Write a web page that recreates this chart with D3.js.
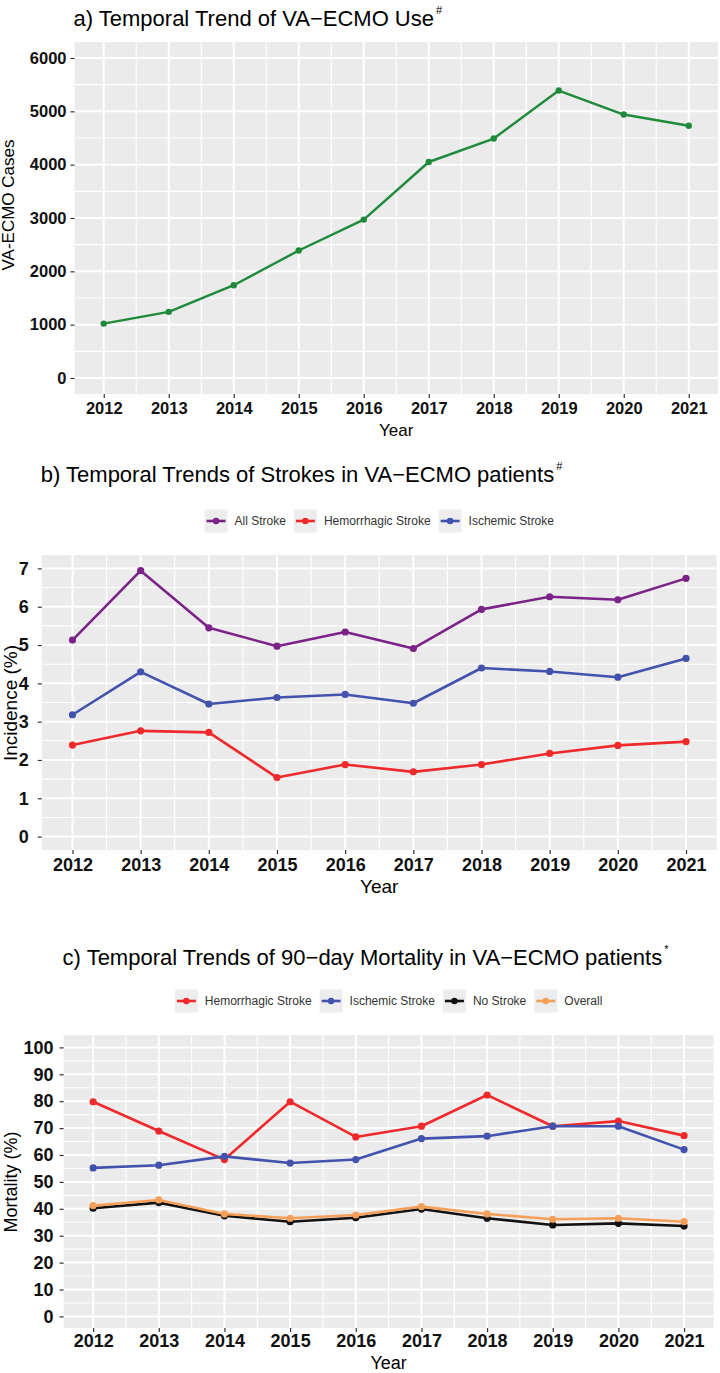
<!DOCTYPE html>
<html>
<head>
<meta charset="utf-8">
<script src="https://cdn.jsdelivr.net/npm/d3@7"></script>
<style>
  html, body { margin: 0; padding: 0; background: #ffffff; }
  svg { display: block; }
  text { font-family: "Liberation Sans", Arial, sans-serif; }
</style>
</head>
<body>
<svg id="chart" width="720" height="1373"></svg>
<script>
// ---------------- DATA ----------------
const years = [2012, 2013, 2014, 2015, 2016, 2017, 2018, 2019, 2020, 2021];

// a) VA-ECMO cases per year
const vaEcmoCases = [1020, 1240, 1740, 2390, 2970, 4050, 4490, 5390, 4940, 4730];

// b) Stroke incidence (%)
const allStrokeIncidence         = [5.13, 6.94, 5.45, 4.97, 5.34, 4.91, 5.93, 6.26, 6.18, 6.74];
const hemorrhagicStrokeIncidence = [2.39, 2.76, 2.72, 1.54, 1.88, 1.69, 1.88, 2.17, 2.38, 2.48];
const ischemicStrokeIncidence    = [3.18, 4.30, 3.46, 3.63, 3.71, 3.48, 4.40, 4.31, 4.16, 4.65];

// c) 90-day mortality (%)
const mortalityHemorrhagic = [79.8, 68.9, 58.3, 79.8, 66.7, 70.7, 82.3, 70.7, 72.6, 67.2];
const mortalityIschemic    = [55.2, 56.2, 59.5, 57.0, 58.3, 66.1, 67.0, 70.7, 70.7, 62.0];
const mortalityNoStroke    = [40.2, 42.3, 37.4, 35.2, 36.7, 39.9, 36.5, 34.0, 34.6, 33.6];
const mortalityOverall     = [41.2, 43.3, 38.1, 36.5, 37.7, 40.8, 38.1, 36.1, 36.5, 35.2];

// tick values
const yTicksA = [0, 1000, 2000, 3000, 4000, 5000, 6000];
const yTicksB = [0, 1, 2, 3, 4, 5, 6, 7];
const yTicksC = [0, 10, 20, 30, 40, 50, 60, 70, 80, 90, 100];
const xTicks = years;

// series names
const strokeSeriesNames = ["All Stroke", "Hemorrhagic Stroke", "Ischemic Stroke"];
const mortalitySeriesNames = ["Hemorrhagic Stroke", "Ischemic Stroke", "No Stroke", "Overall"];

// ---------------- DRAWING ----------------
const svg = d3.select("#chart");
const FONT = '"Liberation Sans", Arial, sans-serif';

function drawPanel(cfg) {
  const g = svg.append("g");
  const x = d3.scaleLinear().domain([2011.55, 2021.45]).range([cfg.left, cfg.right]);
  const y = d3.scaleLinear().domain(cfg.yDomain).range([cfg.bottom, cfg.top]);

  // title
  const t = g.append("text")
    .attr("x", cfg.left - 1).attr("y", cfg.titleY)
    .attr("font-size", cfg.titleSize).attr("fill", "#000");
  t.append("tspan").text(cfg.title);
  t.append("tspan").text(cfg.titleSup)
    .attr("font-size", cfg.titleSize * 0.5)
    .attr("dy", -cfg.titleSize * 0.55)
    .attr("dx", 2);

  // panel background
  g.append("rect")
    .attr("x", cfg.left).attr("y", cfg.top)
    .attr("width", cfg.right - cfg.left).attr("height", cfg.bottom - cfg.top)
    .attr("fill", "#EBEBEB");

  // minor grid
  const yStep = cfg.yTicks[1] - cfg.yTicks[0];
  const yMinor = cfg.yTicks.slice(0, -1).map(v => v + yStep / 2)
    .concat([cfg.yTicks[0] - yStep / 2, cfg.yTicks[cfg.yTicks.length - 1] + yStep / 2])
    .filter(v => y(v) < cfg.bottom && y(v) > cfg.top);
  const xMinor = xTicks.slice(0, -1).map(v => v + 0.5);
  g.append("g").selectAll("line").data(yMinor).join("line")
    .attr("x1", cfg.left).attr("x2", cfg.right)
    .attr("y1", d => y(d)).attr("y2", d => y(d))
    .attr("stroke", "#fff").attr("stroke-width", 1.1);
  g.append("g").selectAll("line").data(xMinor).join("line")
    .attr("y1", cfg.top).attr("y2", cfg.bottom)
    .attr("x1", d => x(d)).attr("x2", d => x(d))
    .attr("stroke", "#fff").attr("stroke-width", 1.1);
  // major grid
  g.append("g").selectAll("line").data(cfg.yTicks).join("line")
    .attr("x1", cfg.left).attr("x2", cfg.right)
    .attr("y1", d => y(d)).attr("y2", d => y(d))
    .attr("stroke", "#fff").attr("stroke-width", 2);
  g.append("g").selectAll("line").data(xTicks).join("line")
    .attr("y1", cfg.top).attr("y2", cfg.bottom)
    .attr("x1", d => x(d)).attr("x2", d => x(d))
    .attr("stroke", "#fff").attr("stroke-width", 2);

  // axes via d3 axis generators
  const yAxis = d3.axisLeft(y).tickValues(cfg.yTicks).tickSize(4).tickPadding(cfg.yPad).tickFormat(d3.format("d"));
  const ya = g.append("g").attr("transform", `translate(${cfg.left},0)`).call(yAxis);
  ya.select(".domain").remove();
  ya.selectAll(".tick line").attr("stroke", "#333").attr("stroke-width", 1.2);
  ya.selectAll(".tick text").attr("font-size", cfg.tickSize).attr("fill", "#111")
    .attr("font-family", FONT).attr("font-weight", "bold");

  const xAxis = d3.axisBottom(x).tickValues(xTicks).tickSize(4).tickPadding(cfg.xPad).tickFormat(d3.format("d"));
  const xa = g.append("g").attr("transform", `translate(0,${cfg.bottom})`).call(xAxis);
  xa.select(".domain").remove();
  xa.selectAll(".tick line").attr("stroke", "#333").attr("stroke-width", 1.2);
  xa.selectAll(".tick text").attr("font-size", cfg.tickSize).attr("fill", "#111")
    .attr("font-family", FONT).attr("font-weight", "bold");

  // axis titles
  g.append("text")
    .attr("x", (cfg.left + cfg.right) / 2).attr("y", cfg.xTitleY)
    .attr("text-anchor", "middle").attr("font-size", cfg.axisTitleSize).attr("fill", "#000")
    .text("Year");
  g.append("text")
    .attr("transform", `translate(${cfg.yTitleX},${cfg.yTitleCY}) rotate(-90)`)
    .attr("text-anchor", "middle").attr("font-size", cfg.axisTitleSize).attr("fill", "#000")
    .text(cfg.yTitle);

  // series
  const line = d3.line().x((d, i) => x(years[i])).y(d => y(d));
  cfg.series.forEach(s => {
    g.append("path").datum(s.values)
      .attr("d", line).attr("fill", "none")
      .attr("stroke", s.color).attr("stroke-width", cfg.lineWidth)
      .attr("stroke-linejoin", "round");
    g.append("g").selectAll("circle").data(s.values).join("circle")
      .attr("cx", (d, i) => x(years[i])).attr("cy", d => y(d))
      .attr("r", cfg.pointR).attr("fill", s.color);
  });

  // legend
  if (cfg.legend) {
    const lg = g.append("g");
    const keyW = 23, keyH = 23, gapKT = 7, gapItem = 8;
    const items = cfg.series.map(s => {
      const tt = lg.append("text").attr("font-size", 12).attr("fill", "#333").text(s.name);
      return { s, tt, w: tt.node().getComputedTextLength() };
    });
    const total = d3.sum(items, d => keyW + gapKT + d.w) + gapItem * (items.length - 1);
    let cx = (cfg.left + cfg.right) / 2 - total / 2;
    const cy = cfg.legendY;
    items.forEach(it => {
      lg.append("rect").attr("x", cx).attr("y", cy - keyH / 2)
        .attr("width", keyW).attr("height", keyH).attr("fill", "#EDEDED");
      lg.append("line").attr("x1", cx + 2).attr("x2", cx + keyW - 2)
        .attr("y1", cy).attr("y2", cy)
        .attr("stroke", it.s.color).attr("stroke-width", cfg.lineWidth);
      lg.append("circle").attr("cx", cx + keyW / 2).attr("cy", cy)
        .attr("r", cfg.pointR * 0.9).attr("fill", it.s.color);
      it.tt.attr("x", cx + keyW + gapKT).attr("y", cy + 4).raise();
      cx += keyW + gapKT + it.w + gapItem;
    });
  }
}

// a)
drawPanel({
  title: "a) Temporal Trend of VA\u2212ECMO Use", titleSup: "#", titleY: 26, titleSize: 22,
  left: 74.5, right: 718, top: 42, bottom: 394,
  yDomain: [-300, 6300], yTicks: yTicksA, yPad: 4, xPad: 4,
  tickSize: 16.5, axisTitleSize: 17,
  xTitleY: 436, yTitle: "VA-ECMO Cases", yTitleX: 14, yTitleCY: 205,
  lineWidth: 2.4, pointR: 3.2,
  series: [{ name: "VA-ECMO Cases", values: vaEcmoCases, color: "#1f8a3b" }],
  legend: false
});

// b)
drawPanel({
  title: "b) Temporal Trends of Strokes in VA\u2212ECMO patients", titleSup: "#", titleY: 482, titleSize: 22,
  left: 41.8, right: 716.7, top: 555, bottom: 850,
  yDomain: [-0.35, 7.35], yTicks: yTicksB, yPad: 9, xPad: 4,
  tickSize: 18, axisTitleSize: 19,
  xTitleY: 893, yTitle: "Incidence (%)", yTitleX: 17, yTitleCY: 703,
  lineWidth: 2.6, pointR: 3.6,
  series: [
    { name: strokeSeriesNames[0], values: allStrokeIncidence, color: "#7b2387" },
    { name: strokeSeriesNames[1], values: hemorrhagicStrokeIncidence, color: "#ee2a2c" },
    { name: strokeSeriesNames[2], values: ischemicStrokeIncidence, color: "#4352ad" }
  ],
  legend: true, legendY: 521
});

// c)
drawPanel({
  title: "c) Temporal Trends of 90\u2212day Mortality in VA\u2212ECMO patients", titleSup: "*", titleY: 965, titleSize: 22,
  left: 63.6, right: 713.6, top: 1035, bottom: 1328,
  yDomain: [-4.3, 104.6], yTicks: yTicksC, yPad: 6, xPad: 2,
  tickSize: 18, axisTitleSize: 18,
  xTitleY: 1369, yTitle: "Mortality (%)", yTitleX: 17, yTitleCY: 1182,
  lineWidth: 2.6, pointR: 3.6,
  series: [
    { name: mortalitySeriesNames[0], values: mortalityHemorrhagic, color: "#ee2a2c" },
    { name: mortalitySeriesNames[1], values: mortalityIschemic, color: "#4352ad" },
    { name: mortalitySeriesNames[2], values: mortalityNoStroke, color: "#111111" },
    { name: mortalitySeriesNames[3], values: mortalityOverall, color: "#f5a05a" }
  ],
  legend: true, legendY: 1001
});
</script>
</body>
</html>
